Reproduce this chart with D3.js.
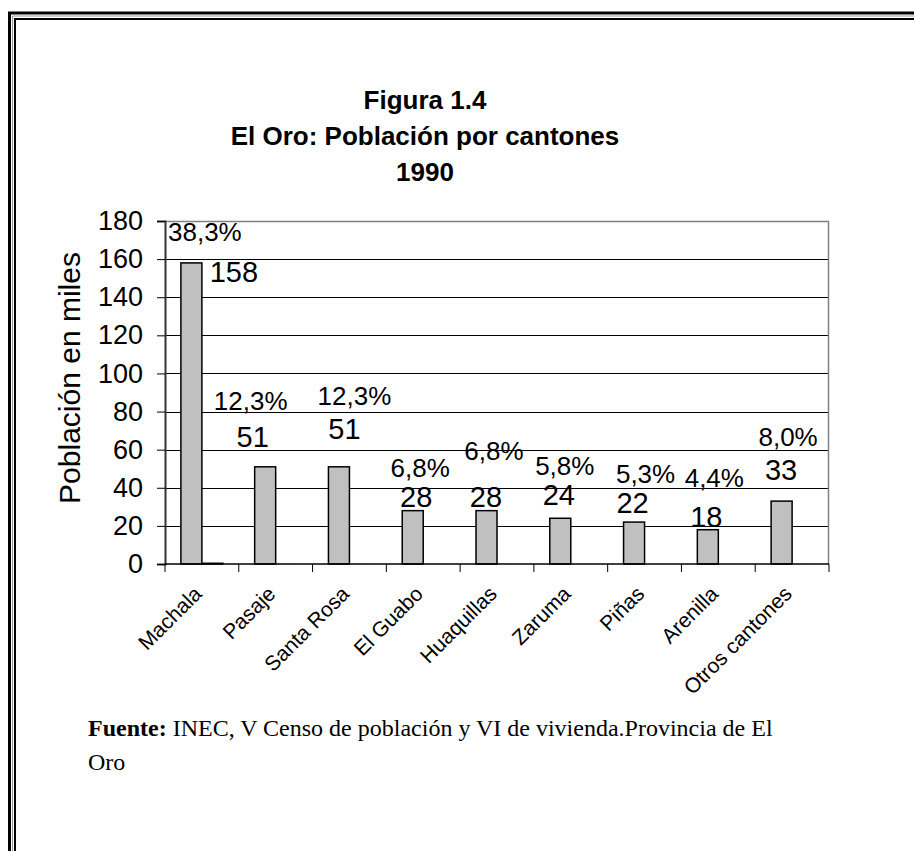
<!DOCTYPE html>
<html>
<head>
<meta charset="utf-8">
<script src="https://cdn.jsdelivr.net/npm/d3@7"></script>
<style>
  body { margin: 0; background: #fff; }
  svg text { fill: #000; }
</style>
</head>
<body>
<div id="chart"></div>
<script>
// Chart data
const cantones = ['Machala', 'Pasaje', 'Santa Rosa', 'El Guabo', 'Huaquillas', 'Zaruma', 'Piñas', 'Arenilla', 'Otros cantones'];
const poblacion = [158, 51, 51, 28, 28, 24, 22, 18, 33];        // miles de habitantes
const porcentaje = [38.3, 12.3, 12.3, 6.8, 6.8, 5.8, 5.3, 4.4, 8.0];
const yTicks = [0, 20, 40, 60, 80, 100, 120, 140, 160, 180];
const titleLines = ['Figura 1.4', 'El Oro: Población por cantones', '1990'];

// hand placed data labels (offsets in px from band centre / bar top)
const numOffset = [[32, 19], [-23, -20], [-5, -28], [-7, -4], [-11, -4], [-12, -13], [-12, -9], [-12, -3], [-11, -21]];
const pctOffset = [[3, -22], [-25, -57], [5, -62], [-3, -34], [-3, -51], [-6, -43], [1, -39], [-4, -43], [-4, -55]];

const W = 914, H = 851;
const margin = {top: 221, right: 85, bottom: 287, left: 165};
const width = W - margin.left - margin.right;
const height = H - margin.top - margin.bottom;
const sans = '"Liberation Sans", Arial, sans-serif';
const serif = '"Liberation Serif", "Times New Roman", serif';

const svg = d3.select('#chart')
    .append('svg')
    .attr('width', W)
    .attr('height', H)
    .style('font-family', sans);

// double frame
svg.append('path')
    .attr('d', `M9.5,${H} V13 H${W}`)
    .attr('fill', 'none').attr('stroke', '#000').attr('stroke-width', 3);
svg.append('path')
    .attr('d', `M12.5,${H} V16 H${W}`)
    .attr('fill', 'none').attr('stroke', '#999').attr('stroke-width', 1);
svg.append('path')
    .attr('d', `M15,${H} V19 H${W}`)
    .attr('fill', 'none').attr('stroke', '#000').attr('stroke-width', 2);

// title
svg.append('text')
    .attr('x', 425)
    .attr('y', 109)
    .attr('text-anchor', 'middle')
    .attr('font-size', 26)
    .attr('font-weight', 'bold')
    .selectAll('tspan')
    .data(titleLines)
    .enter().append('tspan')
    .attr('x', 425)
    .attr('dy', (d, i) => i === 0 ? 0 : 36)
    .text(d => d);

const g = svg.append('g')
    .attr('transform', `translate(${margin.left},${margin.top})`);

// scales
const x = d3.scaleBand()
    .domain(cantones)
    .range([0, width]);

const x1 = d3.scaleBand()
    .domain(['pob', 'pct'])
    .range([0, x.bandwidth()])
    .paddingOuter(0.757);

const y = d3.scaleLinear()
    .domain([0, 180])
    .range([height, 0]);

// gridlines
g.append('g')
    .selectAll('line')
    .data(yTicks.filter(t => t > 0 && t < 180))
    .enter().append('line')
    .attr('x1', 0).attr('x2', width)
    .attr('y1', d => Math.round(y(d)) + 0.5)
    .attr('y2', d => Math.round(y(d)) + 0.5)
    .attr('stroke', '#000')
    .attr('stroke-width', 1);

// plot area border (top/right)
g.append('path')
    .attr('d', `M0,0.5 H${width - 0.5} V${height}`)
    .attr('fill', 'none')
    .attr('stroke', '#808080')
    .attr('stroke-width', 1.5);

// bars: population
g.selectAll('.bar-pob')
    .data(poblacion)
    .enter().append('rect')
    .attr('class', 'bar-pob')
    .attr('x', (d, i) => x(cantones[i]) + x1('pob'))
    .attr('y', d => y(d))
    .attr('width', x1.bandwidth())
    .attr('height', d => y(0) - y(d))
    .attr('fill', '#c0c0c0')
    .attr('stroke', '#000')
    .attr('stroke-width', 1.5);

// bars: share (as fraction, barely visible)
g.selectAll('.bar-pct')
    .data(porcentaje)
    .enter().append('rect')
    .attr('class', 'bar-pct')
    .attr('x', (d, i) => x(cantones[i]) + x1('pct'))
    .attr('y', d => y(d / 100))
    .attr('width', x1.bandwidth())
    .attr('height', d => y(0) - y(d / 100))
    .attr('fill', '#c0c0c0')
    .attr('stroke', d => d > 20 ? '#000' : 'none')
    .attr('stroke-width', 1.5);

// y axis
const yAxis = g.append('g')
    .call(d3.axisLeft(y).tickValues(yTicks).tickSize(8).tickPadding(14));
yAxis.select('.domain').attr('stroke', '#333').attr('stroke-width', 2);
yAxis.selectAll('.tick line').attr('stroke', '#000');
yAxis.selectAll('.tick text')
    .attr('font-size', 27)
    .style('font-family', sans);

// x axis with ticks at band boundaries
const xAxis = g.append('g')
    .attr('transform', `translate(0,${height})`);
xAxis.append('line')
    .attr('x1', 0).attr('x2', width)
    .attr('y1', 0).attr('y2', 0)
    .attr('stroke', '#000').attr('stroke-width', 1.5);
xAxis.selectAll('.xtick')
    .data(cantones.concat(['end']))
    .enter().append('line')
    .attr('x1', (d, i) => i < cantones.length ? x(d) : width)
    .attr('x2', (d, i) => i < cantones.length ? x(d) : width)
    .attr('y1', 0).attr('y2', 8)
    .attr('stroke', '#000');

xAxis.selectAll('.xlabel')
    .data(cantones)
    .enter().append('text')
    .attr('class', 'xlabel')
    .attr('transform', d => `translate(${x(d) + x.bandwidth() / 2 - 10},${20}) rotate(-45)`)
    .attr('text-anchor', 'end')
    .attr('dy', '0.75em')
    .attr('font-size', 21)
    .text(d => d);

// y axis title
svg.append('text')
    .attr('transform', `translate(80,378) rotate(-90)`)
    .attr('text-anchor', 'middle')
    .attr('font-size', 30)
    .text('Población en miles');

// data labels
g.selectAll('.lab-num')
    .data(poblacion)
    .enter().append('text')
    .attr('x', (d, i) => x(cantones[i]) + x.bandwidth() / 2 + numOffset[i][0])
    .attr('y', (d, i) => y(d) + numOffset[i][1])
    .attr('text-anchor', 'middle')
    .attr('font-size', 29)
    .text(d => d);

g.selectAll('.lab-pct')
    .data(porcentaje)
    .enter().append('text')
    .attr('x', (d, i) => x(cantones[i]) + x.bandwidth() / 2 + pctOffset[i][0])
    .attr('y', (d, i) => y(poblacion[i]) + pctOffset[i][1])
    .attr('text-anchor', 'middle')
    .attr('font-size', 26)
    .text(d => d.toFixed(1).replace('.', ',') + '%');

// source note
const note = svg.append('text')
    .style('font-family', serif)
    .attr('font-size', 24);
const l1 = note.append('tspan').attr('x', 88).attr('y', 736);
l1.append('tspan').attr('font-weight', 'bold').text('Fuente:');
l1.append('tspan').text(' INEC, V Censo de población y VI de vivienda.Provincia de El');
note.append('tspan').attr('x', 88).attr('y', 770).text('Oro');
</script>
</body>
</html>
